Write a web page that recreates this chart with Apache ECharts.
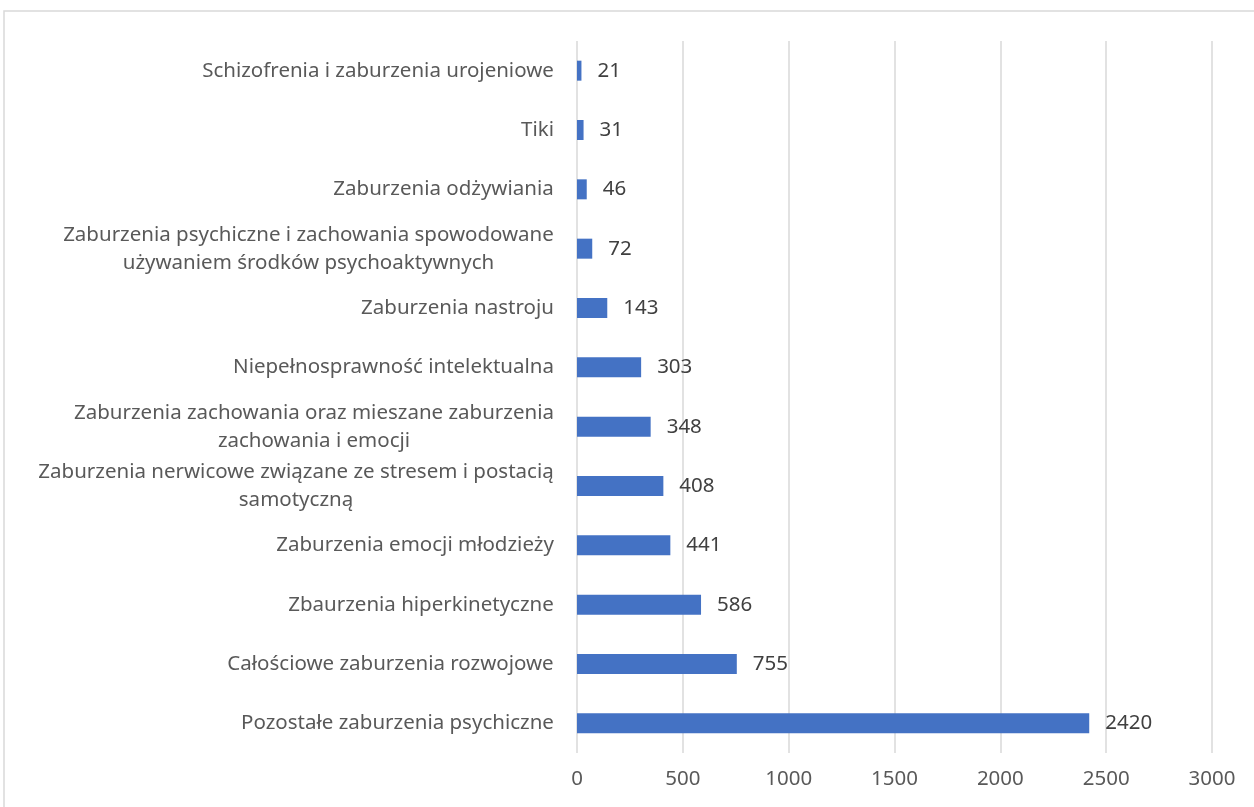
<!DOCTYPE html>
<html>
<head>
<meta charset="utf-8">
<script src="https://cdn.jsdelivr.net/npm/echarts@6/dist/echarts.min.js"></script>
<style>
  html, body { margin: 0; padding: 0; background: #fff; }
  #chart { width: 1254px; height: 807px; }
</style>
</head>
<body>
<div id="chart"></div>
<script>
// categories listed top to bottom as in the picture
const categories = [
  'Schizofrenia i zaburzenia urojeniowe',
  'Tiki',
  'Zaburzenia odżywiania',
  'Zaburzenia psychiczne i zachowania spowodowane\nużywaniem środków psychoaktywnych',
  'Zaburzenia nastroju',
  'Niepełnosprawność intelektualna',
  'Zaburzenia zachowania oraz mieszane zaburzenia\nzachowania i emocji',
  'Zaburzenia nerwicowe związane ze stresem i postacią\nsamotyczną',
  'Zaburzenia emocji młodzieży',
  'Zbaurzenia hiperkinetyczne',
  'Całościowe zaburzenia rozwojowe',
  'Pozostałe zaburzenia psychiczne'
];
const values = [21, 31, 46, 72, 143, 303, 348, 408, 441, 586, 755, 2420];
const xTicks = [0, 500, 1000, 1500, 2000, 2500, 3000];

const FONT = '"Noto Sans", "Open Sans", sans-serif';
const FONT_SIZE = 20.5;
const TEXT = '#595959';

// measure lines so wrapped labels can be centred inside their own block
const ctx = document.createElement('canvas').getContext('2d');
ctx.font = FONT_SIZE + 'px ' + FONT;
const rich = {};
categories.forEach((c, i) => {
  const w = Math.max(...c.split('\n').map(l => ctx.measureText(l).width));
  rich['c' + i] = { width: Math.ceil(w) + 2, align: 'center', lineHeight: 28, fontSize: FONT_SIZE, fontFamily: FONT, color: TEXT };
});

const chart = echarts.init(document.getElementById('chart'));
chart.setOption({
  backgroundColor: '#FFFFFF',
  animation: false,
  graphic: [{
    type: 'rect',
    shape: { x: 4, y: 11, width: 1300, height: 850 },
    style: { fill: 'none', stroke: '#d9d9d9', lineWidth: 1.5 },
    silent: true
  }],
  grid: { left: 577, right: 42, top: 41, bottom: 54 },
  xAxis: {
    type: 'value',
    min: xTicks[0],
    max: xTicks[xTicks.length - 1],
    interval: 500,
    axisLine: { show: false },
    axisTick: { show: false },
    splitLine: { lineStyle: { color: '#d9d9d9', width: 1.5 } },
    axisLabel: { color: TEXT, fontSize: FONT_SIZE, fontFamily: FONT, margin: 16, formatter: v => String(v) }
  },
  yAxis: {
    type: 'category',
    inverse: true,
    data: categories,
    axisLine: { show: false },
    axisTick: { show: false },
    axisLabel: {
      margin: 22,
      align: 'right',
      formatter: (v, i) => v.split('\n').map(l => '{c' + i + '|' + l + '}').join('\n'),
      rich: rich
    }
  },
  series: [{
    type: 'bar',
    data: values,
    barWidth: 20,
    itemStyle: { color: '#4472C4' },
    label: {
      show: true,
      position: 'right',
      distance: 16,
      color: '#404040',
      fontSize: FONT_SIZE,
      fontFamily: FONT
    }
  }]
});
</script>
</body>
</html>
